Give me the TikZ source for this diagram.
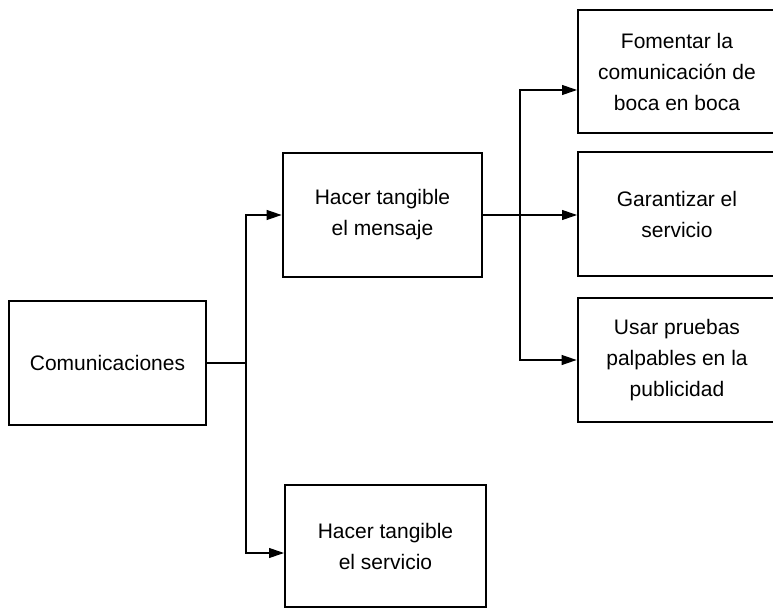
\documentclass[tikz,border=0pt]{standalone}
\usepackage{fontspec}
\setmainfont{Liberation Sans}
\usetikzlibrary{arrows.meta}
\begin{document}
\begin{tikzpicture}[x=1pt,y=-1pt,
  box/.style={draw, line width=2.8pt, align=center, inner sep=0pt,
    font=\fontsize{21}{31}\selectfont},
  conn/.style={line width=1.1pt},
  arr/.style={conn, -{Triangle[length=15pt,width=10pt]}}]
\useasboundingbox (0,0) rectangle (773,609);
\node[box, minimum width=197pt, minimum height=124pt] (com) at (107.5,363) {Comunicaciones};
\node[box, minimum width=199pt, minimum height=124pt] (msg) at (382.5,215) {Hacer tangible\\el mensaje};
\node[box, minimum width=201pt, minimum height=122pt] (srv) at (385.5,546) {Hacer tangible\\el servicio};
\node[box, minimum width=198pt, minimum height=123pt] (r1) at (677,71.5) {Fomentar la\\comunicación de\\boca en boca};
\node[box, minimum width=198pt, minimum height=124pt] (r2) at (677,214) {Garantizar el\\servicio};
\node[box, minimum width=198pt, minimum height=124pt] (r3) at (677,360) {Usar pruebas\\palpables en la\\publicidad};
\coordinate (t1) at (246,363);
\coordinate (t2) at (520,215);
\coordinate (srvin) at (284,553);
\coordinate (r1in) at (577,90);
\coordinate (r2in) at (577,215);
\draw[conn] (com.east) -- (t1);
\draw[arr] (t1) |- (msg.west);
\draw[arr] (t1) |- (srvin);
\draw[conn] (msg.east) -- (t2);
\draw[arr] (t2) -- (r2in);
\draw[arr] (t2) |- (r1in);
\draw[arr] (t2) |- (r3.west);
\end{tikzpicture}
\end{document}
